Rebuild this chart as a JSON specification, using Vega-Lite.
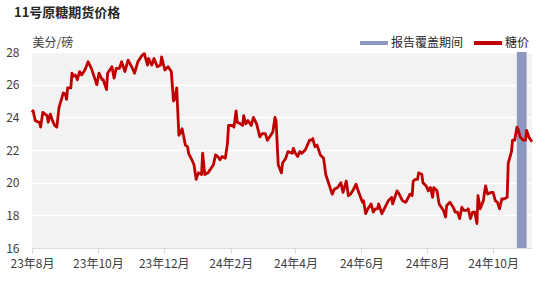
{
  "$schema": "https://vega.github.io/schema/vega-lite/v6.json",
  "autosize": {"type": "none"},
  "width": 500,
  "height": 196,
  "padding": {"left": 32, "top": 52, "right": 25, "bottom": 36},
  "background": "white",
  "title": {
    "text": "11号原糖期货价格",
    "anchor": "start",
    "frame": "group",
    "dx": -18,
    "offset": 7,
    "fontSize": 13,
    "fontWeight": "bold",
    "color": "#262626",
    "font": "Noto Sans CJK SC"
  },
  "config": {
    "font": "Noto Sans CJK SC",
    "view": {"stroke": null, "fill": "#f2f2f2"},
    "axis": {"labelFont": "Noto Sans CJK SC", "titleFont": "Noto Sans CJK SC"}
  },
  "datasets": {
    "band": [{"start": "2024-10-23", "end": "2024-11-01"}],
    "price": [
      {"date": "2023-08-01", "price": 24.3},
      {"date": "2023-08-02", "price": 24.4},
      {"date": "2023-08-04", "price": 23.8},
      {"date": "2023-08-07", "price": 23.7},
      {"date": "2023-08-08", "price": 23.7},
      {"date": "2023-08-09", "price": 23.4},
      {"date": "2023-08-11", "price": 24.3},
      {"date": "2023-08-15", "price": 24.1},
      {"date": "2023-08-16", "price": 23.7},
      {"date": "2023-08-18", "price": 24.2},
      {"date": "2023-08-20", "price": 23.8},
      {"date": "2023-08-22", "price": 23.5},
      {"date": "2023-08-24", "price": 23.4},
      {"date": "2023-08-26", "price": 24.6},
      {"date": "2023-08-30", "price": 25.5},
      {"date": "2023-09-01", "price": 25.4},
      {"date": "2023-09-02", "price": 25.1},
      {"date": "2023-09-03", "price": 25.8},
      {"date": "2023-09-06", "price": 25.8},
      {"date": "2023-09-07", "price": 26.7},
      {"date": "2023-09-08", "price": 26.5},
      {"date": "2023-09-10", "price": 26.6},
      {"date": "2023-09-12", "price": 26.3},
      {"date": "2023-09-14", "price": 26.8},
      {"date": "2023-09-16", "price": 26.6},
      {"date": "2023-09-19", "price": 26.9},
      {"date": "2023-09-22", "price": 27.4},
      {"date": "2023-09-25", "price": 27.0},
      {"date": "2023-09-26", "price": 26.8},
      {"date": "2023-09-30", "price": 26.0},
      {"date": "2023-10-02", "price": 26.7},
      {"date": "2023-10-05", "price": 26.3},
      {"date": "2023-10-06", "price": 26.3},
      {"date": "2023-10-09", "price": 25.7},
      {"date": "2023-10-10", "price": 26.7},
      {"date": "2023-10-14", "price": 27.1},
      {"date": "2023-10-16", "price": 26.4},
      {"date": "2023-10-18", "price": 27.0},
      {"date": "2023-10-21", "price": 27.0},
      {"date": "2023-10-23", "price": 27.4},
      {"date": "2023-10-26", "price": 26.8},
      {"date": "2023-10-29", "price": 27.5},
      {"date": "2023-11-02", "price": 27.0},
      {"date": "2023-11-04", "price": 26.7},
      {"date": "2023-11-07", "price": 27.4},
      {"date": "2023-11-11", "price": 27.8},
      {"date": "2023-11-13", "price": 27.9},
      {"date": "2023-11-16", "price": 27.2},
      {"date": "2023-11-17", "price": 27.6},
      {"date": "2023-11-20", "price": 27.2},
      {"date": "2023-11-22", "price": 27.6},
      {"date": "2023-11-25", "price": 27.1},
      {"date": "2023-11-28", "price": 27.2},
      {"date": "2023-11-29", "price": 27.7},
      {"date": "2023-12-02", "price": 26.9},
      {"date": "2023-12-05", "price": 27.1},
      {"date": "2023-12-08", "price": 26.8},
      {"date": "2023-12-10", "price": 25.0},
      {"date": "2023-12-11", "price": 25.1},
      {"date": "2023-12-13", "price": 25.8},
      {"date": "2023-12-15", "price": 22.9},
      {"date": "2023-12-18", "price": 23.3},
      {"date": "2023-12-21", "price": 22.3},
      {"date": "2023-12-23", "price": 22.2},
      {"date": "2023-12-24", "price": 21.8},
      {"date": "2023-12-27", "price": 21.4},
      {"date": "2023-12-29", "price": 21.1},
      {"date": "2023-12-31", "price": 20.2},
      {"date": "2024-01-02", "price": 20.6},
      {"date": "2024-01-05", "price": 20.5},
      {"date": "2024-01-06", "price": 21.8},
      {"date": "2024-01-08", "price": 20.5},
      {"date": "2024-01-11", "price": 20.6},
      {"date": "2024-01-16", "price": 21.1},
      {"date": "2024-01-18", "price": 21.7},
      {"date": "2024-01-20", "price": 21.6},
      {"date": "2024-01-22", "price": 21.4},
      {"date": "2024-01-24", "price": 21.6},
      {"date": "2024-01-27", "price": 21.5},
      {"date": "2024-01-29", "price": 22.4},
      {"date": "2024-01-30", "price": 23.5},
      {"date": "2024-02-03", "price": 23.5},
      {"date": "2024-02-04", "price": 23.4},
      {"date": "2024-02-06", "price": 24.4},
      {"date": "2024-02-07", "price": 23.7},
      {"date": "2024-02-10", "price": 23.6},
      {"date": "2024-02-12", "price": 23.5},
      {"date": "2024-02-13", "price": 24.1},
      {"date": "2024-02-15", "price": 23.6},
      {"date": "2024-02-17", "price": 23.8},
      {"date": "2024-02-20", "price": 23.5},
      {"date": "2024-02-22", "price": 24.0},
      {"date": "2024-02-25", "price": 23.6},
      {"date": "2024-02-28", "price": 22.8},
      {"date": "2024-03-01", "price": 23.0},
      {"date": "2024-03-04", "price": 23.0},
      {"date": "2024-03-06", "price": 22.6},
      {"date": "2024-03-08", "price": 22.8},
      {"date": "2024-03-11", "price": 23.1},
      {"date": "2024-03-13", "price": 24.0},
      {"date": "2024-03-14", "price": 23.8},
      {"date": "2024-03-16", "price": 21.1},
      {"date": "2024-03-19", "price": 20.6},
      {"date": "2024-03-20", "price": 21.2},
      {"date": "2024-03-23", "price": 21.5},
      {"date": "2024-03-25", "price": 21.9},
      {"date": "2024-03-29", "price": 21.8},
      {"date": "2024-03-30", "price": 22.1},
      {"date": "2024-04-01", "price": 21.8},
      {"date": "2024-04-03", "price": 21.6},
      {"date": "2024-04-05", "price": 21.9},
      {"date": "2024-04-07", "price": 21.8},
      {"date": "2024-04-10", "price": 22.0},
      {"date": "2024-04-12", "price": 22.3},
      {"date": "2024-04-14", "price": 22.6},
      {"date": "2024-04-16", "price": 22.6},
      {"date": "2024-04-17", "price": 22.7},
      {"date": "2024-04-19", "price": 22.2},
      {"date": "2024-04-21", "price": 22.3},
      {"date": "2024-04-24", "price": 21.7},
      {"date": "2024-04-27", "price": 21.5},
      {"date": "2024-04-29", "price": 20.5},
      {"date": "2024-05-01", "price": 20.1},
      {"date": "2024-05-05", "price": 19.3},
      {"date": "2024-05-07", "price": 19.6},
      {"date": "2024-05-10", "price": 19.7},
      {"date": "2024-05-13", "price": 20.0},
      {"date": "2024-05-15", "price": 19.4},
      {"date": "2024-05-18", "price": 20.1},
      {"date": "2024-05-20", "price": 19.2},
      {"date": "2024-05-22", "price": 19.3},
      {"date": "2024-05-24", "price": 19.5},
      {"date": "2024-05-27", "price": 19.9},
      {"date": "2024-05-29", "price": 19.5},
      {"date": "2024-06-02", "price": 18.8},
      {"date": "2024-06-03", "price": 18.9},
      {"date": "2024-06-05", "price": 18.1},
      {"date": "2024-06-07", "price": 18.4},
      {"date": "2024-06-10", "price": 18.7},
      {"date": "2024-06-12", "price": 18.2},
      {"date": "2024-06-14", "price": 18.4},
      {"date": "2024-06-16", "price": 18.4},
      {"date": "2024-06-17", "price": 18.7},
      {"date": "2024-06-20", "price": 18.1},
      {"date": "2024-06-23", "price": 18.5},
      {"date": "2024-06-26", "price": 18.9},
      {"date": "2024-06-29", "price": 19.1},
      {"date": "2024-06-30", "price": 18.7},
      {"date": "2024-07-04", "price": 19.5},
      {"date": "2024-07-06", "price": 19.3},
      {"date": "2024-07-09", "price": 18.9},
      {"date": "2024-07-12", "price": 18.8},
      {"date": "2024-07-13", "price": 18.9},
      {"date": "2024-07-16", "price": 19.3},
      {"date": "2024-07-18", "price": 19.2},
      {"date": "2024-07-19", "price": 20.1},
      {"date": "2024-07-21", "price": 20.2},
      {"date": "2024-07-23", "price": 20.2},
      {"date": "2024-07-24", "price": 20.6},
      {"date": "2024-07-27", "price": 20.5},
      {"date": "2024-07-28", "price": 20.0},
      {"date": "2024-07-31", "price": 19.8},
      {"date": "2024-08-02", "price": 19.5},
      {"date": "2024-08-04", "price": 19.7},
      {"date": "2024-08-06", "price": 19.1},
      {"date": "2024-08-07", "price": 19.7},
      {"date": "2024-08-10", "price": 19.5},
      {"date": "2024-08-12", "price": 18.7},
      {"date": "2024-08-16", "price": 18.3},
      {"date": "2024-08-18", "price": 17.9},
      {"date": "2024-08-19", "price": 18.6},
      {"date": "2024-08-22", "price": 18.8},
      {"date": "2024-08-25", "price": 18.5},
      {"date": "2024-08-27", "price": 18.2},
      {"date": "2024-08-29", "price": 18.2},
      {"date": "2024-08-31", "price": 17.8},
      {"date": "2024-09-02", "price": 18.5},
      {"date": "2024-09-04", "price": 18.3},
      {"date": "2024-09-07", "price": 18.3},
      {"date": "2024-09-08", "price": 18.4},
      {"date": "2024-09-10", "price": 17.8},
      {"date": "2024-09-12", "price": 18.2},
      {"date": "2024-09-14", "price": 18.2},
      {"date": "2024-09-16", "price": 17.5},
      {"date": "2024-09-17", "price": 19.2},
      {"date": "2024-09-19", "price": 18.4},
      {"date": "2024-09-22", "price": 18.9},
      {"date": "2024-09-23", "price": 19.4},
      {"date": "2024-09-24", "price": 19.8},
      {"date": "2024-09-26", "price": 19.3},
      {"date": "2024-09-29", "price": 19.4},
      {"date": "2024-10-01", "price": 19.4},
      {"date": "2024-10-03", "price": 18.9},
      {"date": "2024-10-05", "price": 18.8},
      {"date": "2024-10-07", "price": 18.4},
      {"date": "2024-10-09", "price": 19.0},
      {"date": "2024-10-11", "price": 19.0},
      {"date": "2024-10-14", "price": 19.1},
      {"date": "2024-10-15", "price": 21.2},
      {"date": "2024-10-18", "price": 21.9},
      {"date": "2024-10-19", "price": 22.6},
      {"date": "2024-10-21", "price": 22.6},
      {"date": "2024-10-23", "price": 23.4},
      {"date": "2024-10-24", "price": 23.3},
      {"date": "2024-10-26", "price": 22.8},
      {"date": "2024-10-29", "price": 22.6},
      {"date": "2024-10-31", "price": 22.6},
      {"date": "2024-11-01", "price": 23.2},
      {"date": "2024-11-03", "price": 22.8},
      {"date": "2024-11-06", "price": 22.5}
    ]
  },
  "layer": [
    {
      "data": {"name": "band"},
      "mark": {"type": "rect", "opacity": 1},
      "encoding": {
        "x": {
          "field": "start",
          "type": "temporal",
          "scale": {
            "type": "utc",
            "domain": [
              {"year": 2023, "month": 8, "date": 1, "utc": true},
              {"year": 2024, "month": 11, "date": 6, "utc": true}
            ]
          },
          "axis": {
            "title": null,
            "format": "%y年%-m月",
            "values": [
              {"year": 2023, "month": 8, "date": 1, "utc": true},
              {"year": 2023, "month": 10, "date": 1, "utc": true},
              {"year": 2023, "month": 12, "date": 1, "utc": true},
              {"year": 2024, "month": 2, "date": 1, "utc": true},
              {"year": 2024, "month": 4, "date": 1, "utc": true},
              {"year": 2024, "month": 6, "date": 1, "utc": true},
              {"year": 2024, "month": 8, "date": 1, "utc": true},
              {"year": 2024, "month": 10, "date": 1, "utc": true}
            ],
            "grid": false,
            "labelFlush": false,
            "labelFontSize": 12,
            "labelColor": "#404040",
            "labelPadding": 5,
            "domainColor": "#d9d9d9",
            "tickColor": "#d9d9d9",
            "tickSize": 5
          }
        },
        "x2": {"field": "end"},
        "color": {
          "datum": "报告覆盖期间",
          "type": "nominal",
          "scale": {"domain": ["报告覆盖期间", "糖价"], "range": ["#8e97bf", "#c00000"]},
          "legend": {
            "title": null,
            "orient": "none",
            "direction": "horizontal",
            "legendX": 326,
            "legendY": -25,
            "symbolType": "stroke",
            "symbolSize": 784,
            "symbolStrokeWidth": 4,
            "labelOffset": 1,
            "columnPadding": 2,
            "labelFontSize": 12,
            "labelColor": "#262626",
            "labelFont": "Noto Sans CJK SC",
            "encode": {
              "symbols": {
                "update": {
                  "stroke": {"scale": "color", "field": "value"},
                  "strokeWidth": {"signal": "datum.value === '糖价' ? 3 : 5"},
                  "fill": {"value": "transparent"}
                }
              }
            }
          }
        }
      }
    },
    {
      "data": {"name": "price"},
      "mark": {"type": "line", "strokeWidth": 2.8, "strokeJoin": "round"},
      "encoding": {
        "x": {"field": "date", "type": "temporal"},
        "y": {
          "field": "price",
          "type": "quantitative",
          "scale": {"domain": [16, 28], "nice": false, "zero": false},
          "axis": {
            "title": "美分/磅",
            "titleAngle": 0,
            "titleAlign": "left",
            "titleBaseline": "bottom",
            "titleX": 0,
            "titleY": -3,
            "titleFontSize": 12,
            "titleFontWeight": "normal",
            "titleColor": "#404040",
            "values": [16, 18, 20, 22, 24, 26, 28],
            "domain": false,
            "ticks": false,
            "labelPadding": 13,
            "labelFontSize": 12,
            "labelColor": "#404040",
            "gridColor": "#ffffff",
            "gridWidth": 1.5
          }
        },
        "color": {"datum": "糖价", "type": "nominal"}
      }
    }
  ]
}
